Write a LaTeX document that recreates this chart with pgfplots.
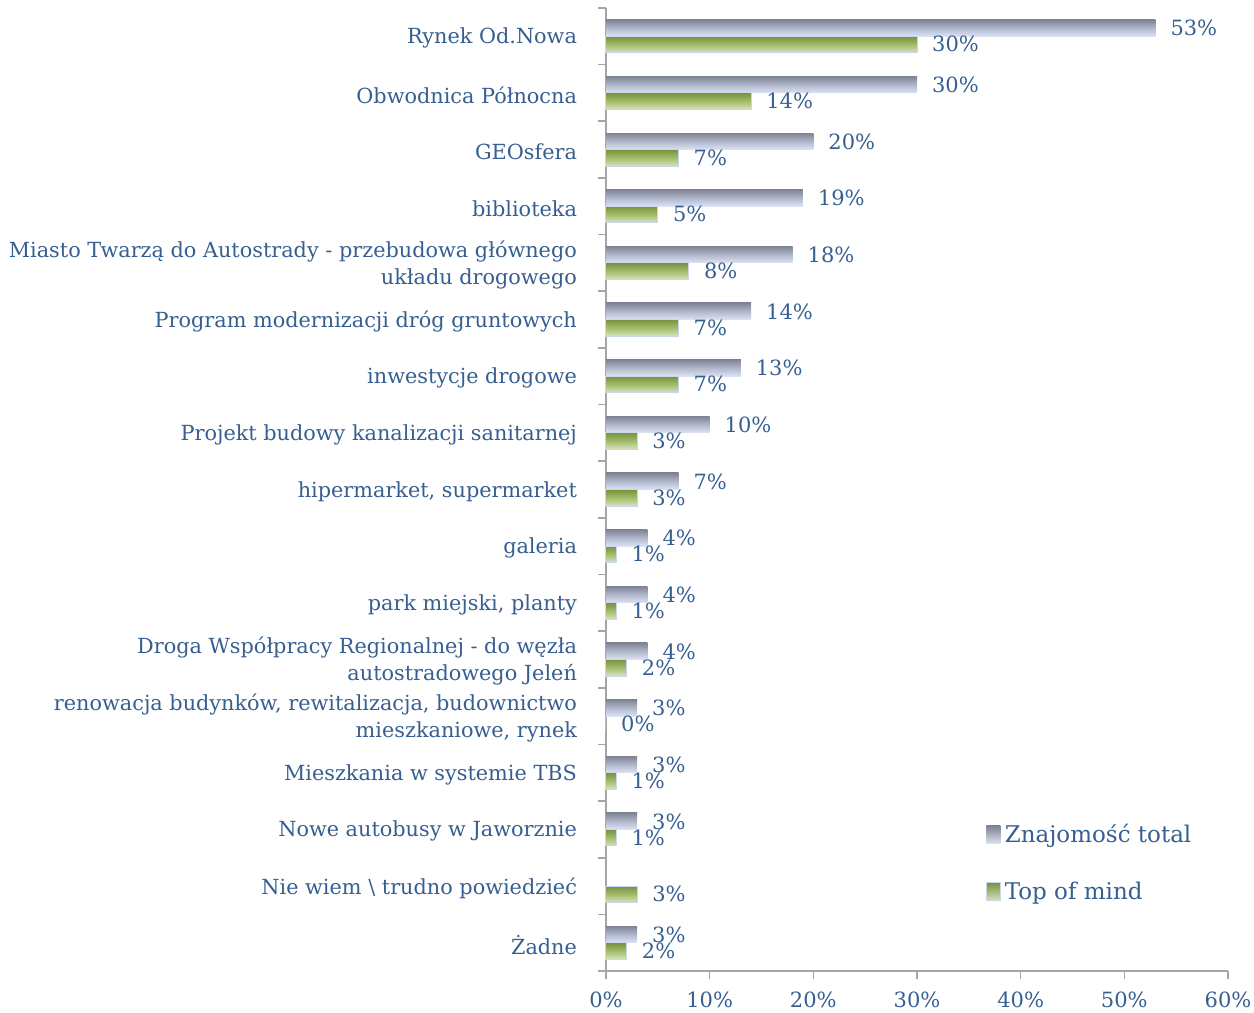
\documentclass[border=0pt]{standalone}
\usepackage{fontspec}
\setmainfont{DejaVu Serif}
\usepackage{pgfplots}
\pgfplotsset{compat=1.18}
\definecolor{txt}{HTML}{365F91}
\definecolor{axgray}{HTML}{A6A6A6}
\definecolor{grTop}{HTML}{7F8494}
\definecolor{grMid}{HTML}{B0B7CB}
\definecolor{grBot}{HTML}{DDE3F4}
\definecolor{gnTop}{HTML}{77933C}
\definecolor{gnMid}{HTML}{A3BC6C}
\definecolor{gnBot}{HTML}{D7E4BD}
\definecolor{gnEdge}{HTML}{C9D6EE}

% one \addplot per bar so that every bar gets its own gradient
\pgfplotsset{
  gbar/.style={xbar, bar width=8.3pt, bar shift=4.15pt, draw=none,
    top color=grTop, bottom color=grBot, middle color=grMid,
    every node near coord/.append style={yshift=4pt},
    legend image code/.code={\shade[top color=grTop, bottom color=grBot] (0pt,-4.5pt) rectangle (7pt,4.5pt);}},
  tbar/.style={xbar, bar width=8.3pt, bar shift=-4.15pt, draw=gnEdge, line width=0.5pt,
    top color=gnTop, bottom color=gnBot, middle color=gnMid,
    every node near coord/.append style={yshift=-4pt},
    legend image code/.code={\shade[draw=gnEdge, top color=gnTop, bottom color=gnBot] (0pt,-4.5pt) rectangle (7pt,4.5pt);}},
}

\begin{document}
\begin{tikzpicture}
\begin{axis}[
    name=ax,
    scale only axis,
    width=311pt, height=481.5pt,
    xmin=0, xmax=60,
    ymin=-0.5, ymax=16.5,
    enlargelimits=false,
    clip=false,
    axis lines*=left,
    axis line style={axgray, line width=1pt},
    xtick={0,10,...,60},
    xticklabel={\pgfmathprintnumber{\tick}\%},
    /pgf/number format/assume math mode=true,
    tick align=outside,
    major tick length=4pt,
    minor tick length=4pt,
    x tick style={axgray, line width=0.8pt},
    major y tick style={draw=none},
    minor y tick style={axgray, line width=0.8pt},
    ytick={0,...,16},
    minor ytick={-0.5,0.5,...,16.5},
    yticklabels={
      Żadne,
      Nie wiem \textbackslash{} trudno powiedzieć,
      Nowe autobusy w Jaworznie,
      Mieszkania w systemie TBS,
      {renowacja budynków, rewitalizacja, budownictwo\\mieszkaniowe, rynek},
      {Droga Współpracy Regionalnej - do węzła\\autostradowego Jeleń},
      {park miejski, planty},
      galeria,
      {hipermarket, supermarket},
      Projekt budowy kanalizacji sanitarnej,
      inwestycje drogowe,
      Program modernizacji dróg gruntowych,
      {Miasto Twarzą do Autostrady - przebudowa głównego\\układu drogowego},
      biblioteka,
      GEOsfera,
      Obwodnica Północna,
      Rynek Od.Nowa},
    y tick label style={font=\fontsize{10.4}{13.5}\selectfont, text=txt, align=right, xshift=-7pt, yshift=-1pt},
    x tick label style={font=\fontsize{10.5}{13}\selectfont, text=txt, yshift=-3pt},
    legend style={draw=none, fill=none, inner sep=0pt, at={(0.61,0.112)}, anchor=west,
      row sep=14pt, font=\fontsize{11.5}{14}\selectfont, text=txt},
    legend cell align=left,
    nodes near coords={\pgfmathprintnumber{\pgfplotspointmeta}\%},
    point meta=x,
    every node near coord/.append style={font=\fontsize{10.5}{13}\selectfont, text=txt, xshift=4pt},
]
% Rynek Od.Nowa
\addplot[gbar] coordinates {(53,16)};
\addlegendentry{Znajomość total}
\addplot[tbar] coordinates {(30,16)};
\addlegendentry{Top of mind}
% Obwodnica Północna
\addplot[gbar, forget plot] coordinates {(30,15)};
\addplot[tbar, forget plot] coordinates {(14,15)};
% GEOsfera
\addplot[gbar, forget plot] coordinates {(20,14)};
\addplot[tbar, forget plot] coordinates {(7,14)};
% biblioteka
\addplot[gbar, forget plot] coordinates {(19,13)};
\addplot[tbar, forget plot] coordinates {(5,13)};
% Miasto Twarzą do Autostrady
\addplot[gbar, forget plot] coordinates {(18,12)};
\addplot[tbar, forget plot] coordinates {(8,12)};
% Program modernizacji dróg gruntowych
\addplot[gbar, forget plot] coordinates {(14,11)};
\addplot[tbar, forget plot] coordinates {(7,11)};
% inwestycje drogowe
\addplot[gbar, forget plot] coordinates {(13,10)};
\addplot[tbar, forget plot] coordinates {(7,10)};
% kanalizacja
\addplot[gbar, forget plot] coordinates {(10,9)};
\addplot[tbar, forget plot] coordinates {(3,9)};
% hipermarket
\addplot[gbar, forget plot] coordinates {(7,8)};
\addplot[tbar, forget plot] coordinates {(3,8)};
% galeria
\addplot[gbar, forget plot] coordinates {(4,7)};
\addplot[tbar, forget plot] coordinates {(1,7)};
% park miejski
\addplot[gbar, forget plot] coordinates {(4,6)};
\addplot[tbar, forget plot] coordinates {(1,6)};
% Droga Współpracy Regionalnej
\addplot[gbar, forget plot] coordinates {(4,5)};
\addplot[tbar, forget plot] coordinates {(2,5)};
% renowacja budynków
\addplot[gbar, forget plot] coordinates {(3,4)};
\addplot[tbar, forget plot] coordinates {(0,4)};
% Mieszkania TBS
\addplot[gbar, forget plot] coordinates {(3,3)};
\addplot[tbar, forget plot] coordinates {(1,3)};
% Nowe autobusy
\addplot[gbar, forget plot] coordinates {(3,2)};
\addplot[tbar, forget plot] coordinates {(1,2)};
% Nie wiem (no Znajomość bar)
\addplot[tbar, forget plot] coordinates {(3,1)};
% Żadne
\addplot[gbar, forget plot] coordinates {(3,0)};
\addplot[tbar, forget plot] coordinates {(2,0)};
\end{axis}
\pgfresetboundingbox
\path ([shift={(-303pt,-20.5pt)}]ax.south west) rectangle ([shift={(13pt,4pt)}]ax.north east);
\end{tikzpicture}
\end{document}
